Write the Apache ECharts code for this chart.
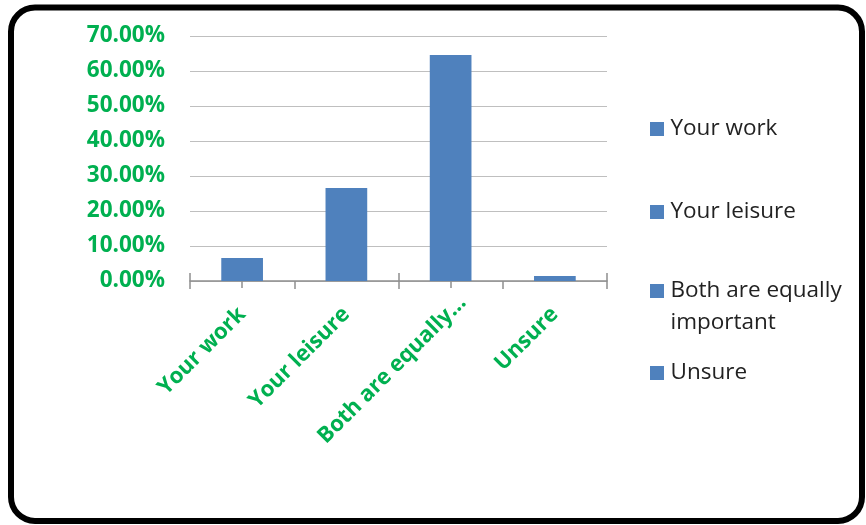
<!DOCTYPE html>
<html>
<head>
<meta charset="utf-8">
<script src="https://cdn.jsdelivr.net/npm/echarts@6/dist/echarts.min.js"></script>
<style>
html,body{margin:0;padding:0;background:#fff;}
#chart{width:866px;height:525px;}
</style>
</head>
<body>
<div id="chart"></div>
<script>
// Data
const categories = ['Your work', 'Your leisure', 'Both are equally important', 'Unsure'];
const tickLabels = ['Your work', 'Your leisure', 'Both are equally\u2026', 'Unsure'];
const values = [6.6, 26.6, 64.6, 1.4]; // percent
const yTicks = { min: 0, max: 70, interval: 10 };

const GREEN = '#00B050';
const BAR = '#4F81BD';

const chart = echarts.init(document.getElementById('chart'), null, { renderer: 'canvas' });

const series = categories.map((name, i) => ({
  name: name,
  type: 'bar',
  stack: 'all',
  barWidth: '40%',
  xAxisIndex: 0,
  itemStyle: { color: BAR },
  data: values.map((v, j) => (j === i ? v : null))
}));

const legendTops = [113, 196, 243, 357];
const legends = categories.map((name, i) => ({
  data: [name],
  left: 650,
  top: legendTops[i],
  orient: 'vertical',
  padding: 0,
  itemWidth: 17,
  itemHeight: 14,
  itemGap: 0,
  icon: 'path://M0,0H14V14H0Z',
  symbolKeepAspect: true,
  selectedMode: false,
  formatter: i === 2 ? (n => '\n' + n) : (n => n),
  textStyle: {
    fontFamily: 'Open Sans',
    fontSize: 22.5,
    color: '#222',
    lineHeight: 32,
    width: 185,
    overflow: 'break'
  }
}));

// category axis data with a per-label shift for the truncated label
const axisData = tickLabels.map((t, i) =>
  i === 2 ? { value: t, textStyle: { padding: [0, -17, 0, 0] } } : t
);

const axisBase = {
  type: 'category',
  data: axisData,
  position: 'bottom',
  gridIndex: 0
};

chart.setOption({
  animation: false,
  backgroundColor: '#fff',
  graphic: [{
    type: 'rect',
    shape: { x: 11, y: 7.5, width: 851, height: 513.5, r: 24 },
    style: { fill: 'none', stroke: '#000', lineWidth: 6 },
    z: 100
  }],
  grid: { left: 190, right: 259, top: 36, bottom: 244, containLabel: false },
  legend: legends,
  xAxis: [
    Object.assign({}, axisBase, {
      axisLine: { show: true, lineStyle: { color: '#8f8f8f', width: 1.5 } },
      axisTick: { show: true, alignWithLabel: false, inside: false, length: 8, lineStyle: { color: '#8f8f8f', width: 1.5 } },
      axisLabel: {
        rotate: 45,
        margin: 30,
        color: GREEN,
        fontFamily: 'Open Sans',
        fontWeight: 'bold',
        fontSize: 22,
        interval: 0
      },
      splitLine: { show: false }
    }),
    Object.assign({}, axisBase, {
      axisLine: { show: false },
      axisTick: { show: true, alignWithLabel: false, inside: true, length: 8, lineStyle: { color: '#8f8f8f', width: 1.5 } },
      axisLabel: { show: false },
      splitLine: { show: false }
    }),
    Object.assign({}, axisBase, {
      axisLine: { show: false },
      axisTick: { show: true, alignWithLabel: true, inside: false, length: 7, lineStyle: { color: '#8f8f8f', width: 1.5 } },
      axisLabel: { show: false },
      splitLine: { show: false }
    })
  ],
  yAxis: {
    type: 'value',
    min: yTicks.min,
    max: yTicks.max,
    interval: yTicks.interval,
    axisLine: { show: false },
    axisTick: { show: false },
    splitLine: { show: true, lineStyle: { color: '#bfbfbf', width: 1 } },
    axisLabel: {
      margin: 25,
      color: GREEN,
      fontFamily: 'Open Sans',
      fontWeight: 'bold',
      fontSize: 22.5,
      formatter: v => v.toFixed(2) + '%'
    }
  },
  series: series
});
</script>
</body>
</html>
